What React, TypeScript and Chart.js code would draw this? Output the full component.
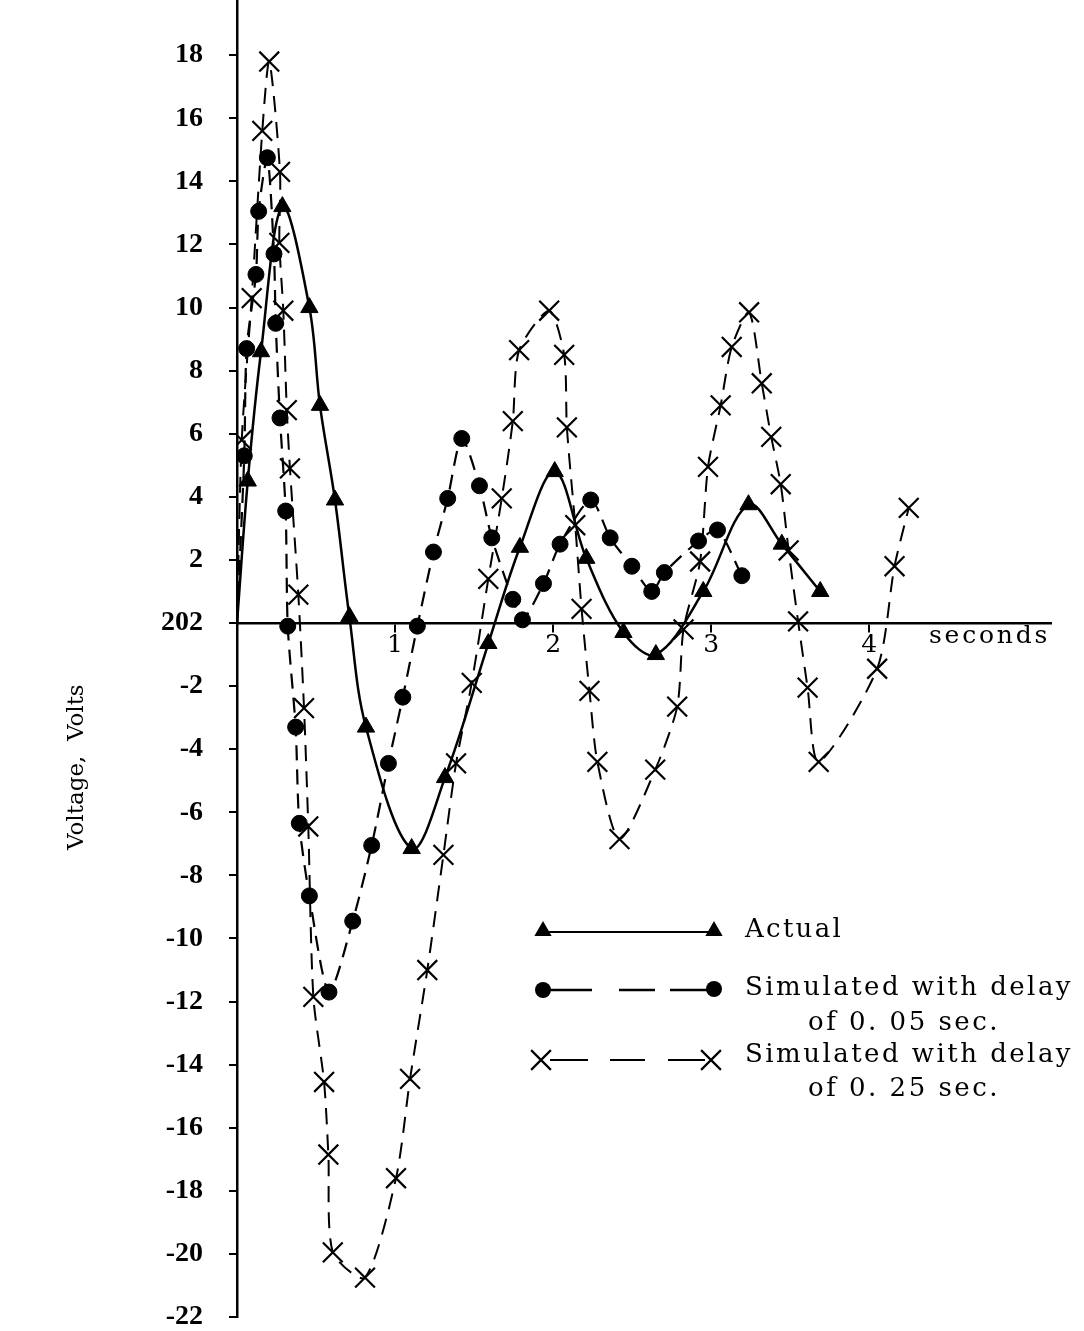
import React, { useEffect, useRef } from 'react';
import { Chart, registerables } from 'chart.js';

Chart.register(...registerables);

// ---- tick labels / titles ----
const yTicks = [-22, -20, -18, -16, -14, -12, -10, -8, -6, -4, -2, 0, 2, 4, 6, 8, 10, 12, 14, 16, 18];
const yZeroLabel = '202';
const xTicks = [1, 2, 3, 4];
const yTitle = 'Voltage,  Volts';
const xTitle = 'seconds';
const legendLabels = ['Actual', 'Simulated with delay', 'of 0. 05 sec.', 'Simulated with delay', 'of 0. 25 sec.'];

// ---- series: Actual ----
const actualT = [0, 0.068, 0.152, 0.287, 0.458, 0.525, 0.62, 0.711, 0.816, 1.105, 1.316, 1.59, 1.79, 2.01, 2.21, 2.445, 2.65, 2.95, 3.236, 3.447, 3.69];
const actualV = [0, 4.5, 8.6, 13.2, 10.0, 6.9, 3.9, 0.2, -3.3, -7.15, -4.9, -0.65, 2.4, 4.8, 2.05, -0.3, -1.0, 1.0, 3.75, 2.5, 1.0];

// ---- series: Simulated with delay of 0.05 sec ----
const sim05T = [0, 0.046, 0.061, 0.12, 0.137, 0.192, 0.234, 0.245, 0.272, 0.308, 0.321, 0.371, 0.394, 0.458, 0.582, 0.732, 0.852, 0.958, 1.049, 1.141, 1.243, 1.333, 1.422, 1.534, 1.612, 1.745, 1.806, 1.939, 2.044, 2.238, 2.361, 2.498, 2.624, 2.704, 2.92, 3.04, 3.194];
const sim05V = [0, 5.3, 8.7, 11.05, 13.05, 14.75, 11.7, 9.5, 6.5, 3.55, -0.1, -3.3, -6.35, -8.65, -11.7, -9.45, -7.05, -4.45, -2.35, -0.1, 2.25, 3.95, 5.85, 4.35, 2.7, 0.75, 0.1, 1.25, 2.5, 3.9, 2.7, 1.8, 1.0, 1.6, 2.6, 2.95, 1.5];

// ---- series: Simulated with delay of 0.25 sec ----
const sim25T = [0, 0.03, 0.093, 0.16, 0.204, 0.272, 0.268, 0.293, 0.315, 0.335, 0.388, 0.424, 0.451, 0.483, 0.551, 0.578, 0.606, 0.81, 1.006, 1.095, 1.204, 1.306, 1.386, 1.485, 1.59, 1.675, 1.745, 1.785, 1.975, 2.07, 2.087, 2.14, 2.18, 2.23, 2.28, 2.42, 2.646, 2.785, 2.825, 2.93, 2.98, 3.06, 3.13, 3.24, 3.32, 3.38, 3.44, 3.49, 3.55, 3.61, 3.68, 4.05, 4.16, 4.25];
const sim25V = [0, 5.8, 10.3, 15.6, 17.8, 14.3, 12.05, 9.9, 6.75, 4.9, 0.9, -2.7, -6.45, -11.85, -14.55, -16.85, -19.95, -20.75, -17.6, -14.45, -11.0, -7.35, -4.45, -1.9, 1.4, 3.95, 6.4, 8.65, 9.9, 8.5, 6.2, 3.1, 0.45, -2.15, -4.4, -6.85, -4.65, -2.65, -0.2, 1.95, 4.95, 6.9, 8.75, 9.85, 7.6, 5.9, 4.4, 2.3, 0.05, -2.05, -4.4, -1.45, 1.8, 3.65];

const toPts = (t: number[], v: number[]) => t.map((x, i) => ({ x, y: v[i] }));

const SERIF = '"DejaVu Serif", serif';
const TICKFONT = '"Liberation Serif", serif';

function fitText(ctx: CanvasRenderingContext2D, text: string, x: number, y: number, width: number, font: string, align: 'left' | 'center') {
  ctx.font = font;
  (ctx as any).letterSpacing = '0px';
  const w = ctx.measureText(text).width;
  const ls = Math.max(0, (width - w) / text.length);
  (ctx as any).letterSpacing = ls + 'px';
  ctx.textBaseline = 'middle';
  ctx.textAlign = 'left';
  const start = align === 'center' ? x - width / 2 : x;
  ctx.fillText(text, start, y);
  (ctx as any).letterSpacing = '0px';
}

function triangle(ctx: CanvasRenderingContext2D, x: number, y: number, r: number) {
  ctx.beginPath();
  ctx.moveTo(x, y - r);
  ctx.lineTo(x + r * 0.866, y + r * 0.5);
  ctx.lineTo(x - r * 0.866, y + r * 0.5);
  ctx.closePath();
  ctx.fill();
}
function circle(ctx: CanvasRenderingContext2D, x: number, y: number, r: number) {
  ctx.beginPath();
  ctx.arc(x, y, r, 0, Math.PI * 2);
  ctx.fill();
}
function cross(ctx: CanvasRenderingContext2D, x: number, y: number, r: number) {
  const d = r * 0.707;
  ctx.beginPath();
  ctx.moveTo(x - d, y - d); ctx.lineTo(x + d, y + d);
  ctx.moveTo(x + d, y - d); ctx.lineTo(x - d, y + d);
  ctx.stroke();
}

const overlay = {
  id: 'overlay',
  afterDraw(chart: any) {
    const ctx: CanvasRenderingContext2D = chart.ctx;
    ctx.save();
    ctx.fillStyle = '#000';
    ctx.strokeStyle = '#000';
    // y axis title
    ctx.save();
    ctx.translate(77, 772);
    ctx.rotate(-Math.PI / 2);
    fitText(ctx, yTitle, 0, 0, 156, `23px ${SERIF}`, 'center');
    ctx.restore();
    // x axis title
    fitText(ctx, xTitle, 929, 636, 121, `25px ${SERIF}`, 'left');

    // legend row 1: Actual
    ctx.lineWidth = 2;
    ctx.setLineDash([]);
    ctx.beginPath(); ctx.moveTo(543, 932); ctx.lineTo(714, 932); ctx.stroke();
    triangle(ctx, 543, 931, 10);
    triangle(ctx, 714, 931, 10);
    fitText(ctx, legendLabels[0], 745, 930, 98, `26px ${SERIF}`, 'left');

    // legend row 2: circles, dashed
    ctx.lineWidth = 2.4;
    [[543, 592], [619, 655], [670, 714]].forEach(([a, b]) => {
      ctx.beginPath(); ctx.moveTo(a, 990); ctx.lineTo(b, 990); ctx.stroke();
    });
    circle(ctx, 543, 990, 8);
    circle(ctx, 714, 989, 8);
    fitText(ctx, legendLabels[1], 745, 988, 328, `26px ${SERIF}`, 'left');
    fitText(ctx, legendLabels[2], 808, 1023, 192, `26px ${SERIF}`, 'left');

    // legend row 3: crosses, dashed
    ctx.lineWidth = 2.2;
    [[550, 588], [610, 645], [668, 705]].forEach(([a, b]) => {
      ctx.beginPath(); ctx.moveTo(a, 1060); ctx.lineTo(b, 1060); ctx.stroke();
    });
    cross(ctx, 541, 1060, 14);
    cross(ctx, 711, 1060, 14);
    fitText(ctx, legendLabels[3], 745, 1055, 328, `26px ${SERIF}`, 'left');
    fitText(ctx, legendLabels[4], 808, 1089, 192, `26px ${SERIF}`, 'left');
    ctx.restore();
  },
};

export default function App() {
  const ref = useRef<HTMLCanvasElement | null>(null);
  useEffect(() => {
    if (!ref.current) return;
    const hideOrigin = (r: number) => (c: any) => (c.dataIndex === 0 ? 0 : r);
    const chart = new Chart(ref.current, {
      type: 'line',
      data: {
        datasets: [
          {
            label: 'Actual',
            data: toPts(actualT, actualV),
            borderColor: '#000',
            backgroundColor: '#000',
            borderWidth: 2.5,
            tension: 0.35,
            pointStyle: 'triangle',
            pointRadius: hideOrigin(10) as any,
            pointBorderWidth: 1,
            pointBackgroundColor: '#000',
            pointBorderColor: '#000',
          },
          {
            label: 'Simulated with delay of 0.05 sec.',
            data: toPts(sim05T, sim05V),
            borderColor: '#000',
            backgroundColor: '#000',
            borderWidth: 2.2,
            borderDash: [15, 9],
            tension: 0.25,
            pointStyle: 'circle',
            pointRadius: hideOrigin(8) as any,
            pointBorderWidth: 1,
            pointBackgroundColor: '#000',
            pointBorderColor: '#000',
          },
          {
            label: 'Simulated with delay of 0.25 sec.',
            data: toPts(sim25T, sim25V),
            borderColor: '#000',
            backgroundColor: '#000',
            borderWidth: 2,
            borderDash: [16, 10],
            tension: 0.25,
            pointStyle: 'crossRot',
            pointRadius: hideOrigin(14) as any,
            pointBorderWidth: 2.2,
            pointBackgroundColor: '#000',
            pointBorderColor: '#000',
          },
        ],
      },
      options: {
        animation: false,
        responsive: false,
        layout: { autoPadding: false, padding: { left: 0, right: 33, top: 0, bottom: 14 } },
        plugins: { legend: { display: false }, tooltip: { enabled: false } },
        scales: {
          x: {
            type: 'linear',
            min: 0,
            max: 5.15,
            position: { y: 0 } as any,
            afterBuildTicks: (s: any) => { s.ticks = xTicks.map((v) => ({ value: v })); },
            afterFit: (s: any) => { s.height = 0; s.paddingLeft = 0; s.paddingRight = 0; },
            grid: { drawOnChartArea: false, drawTicks: true, tickLength: 8, color: '#000', lineWidth: 2 },
            border: { display: true, color: '#000', width: 2.5 },
            ticks: {
              color: '#000',
              padding: -1,
              maxRotation: 0,
              font: { family: SERIF, size: 25 },
              callback: (v: any) => String(v),
            },
          },
          y: {
            type: 'linear',
            min: -22,
            max: 19.75,
            afterBuildTicks: (s: any) => { s.ticks = yTicks.map((v) => ({ value: v })); },
            afterFit: (s: any) => { s.width = 237; s.paddingTop = 0; s.paddingBottom = 0; },
            grid: { drawOnChartArea: false, drawTicks: true, tickLength: 8, color: '#000', lineWidth: 2 },
            border: { display: true, color: '#000', width: 2.5 },
            ticks: {
              color: '#000',
              padding: 26,
              font: { family: TICKFONT, size: 28, weight: 'bold' },
              callback: (v: any) => (Number(v) === 0 ? yZeroLabel : String(v)),
            },
          },
        },
      },
      plugins: [overlay],
    });
    return () => chart.destroy();
  }, []);
  return (
    <div style={{ position: 'absolute', left: 0, top: 0, width: 1084, height: 1331, background: '#fff' }}>
      <canvas ref={ref} width={1084} height={1331} style={{ display: 'block', width: 1084, height: 1331 }} />
    </div>
  );
}
